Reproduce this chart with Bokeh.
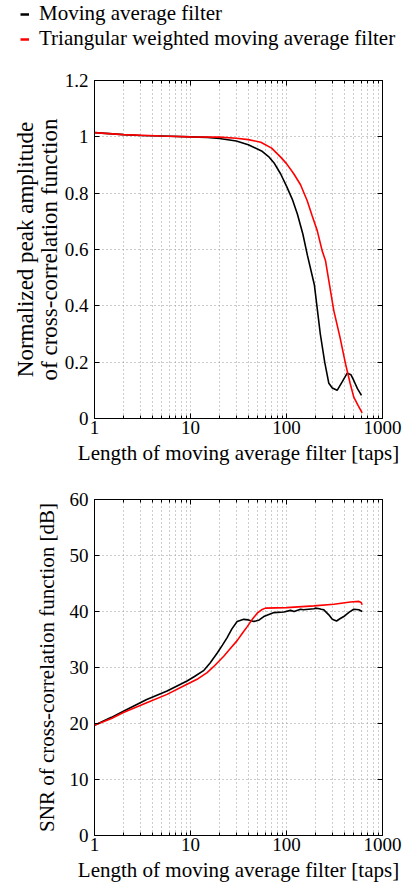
from bokeh.plotting import figure
from bokeh.layouts import column
from bokeh.models import FixedTicker, LogAxis, LinearAxis, Legend, LegendItem
from bokeh.embed import file_html
from bokeh.resources import INLINE

FONT = "Liberation Serif"
FS_TICK = "19px"
FS_TITLE = "21px"

# ---- data: normalized peak amplitude ----
amp_ma_taps = [1, 2, 3, 5, 10, 15, 20, 30, 40, 55, 65, 75, 87, 100, 115, 130, 148, 165,
               195, 225, 250, 276, 300, 337, 380, 429, 470, 502, 550, 604]
amp_ma = [1.015, 1.008, 1.005, 1.003, 1.0, 0.998, 0.994, 0.985, 0.972, 0.95, 0.93, 0.905,
          0.868, 0.825, 0.778, 0.725, 0.655, 0.58, 0.475, 0.30, 0.20, 0.125, 0.108, 0.10,
          0.13, 0.161, 0.155, 0.135, 0.105, 0.082]
amp_tw_taps = [1, 2, 5, 10, 20, 30, 40, 54, 70, 87, 100, 119, 140, 164, 185, 209, 235,
               255, 311, 360, 412, 460, 502, 560, 614]
amp_tw = [1.015, 1.008, 1.003, 1.0, 0.999, 0.995, 0.99, 0.981, 0.96, 0.928, 0.905, 0.869,
          0.83, 0.774, 0.72, 0.667, 0.596, 0.56, 0.383, 0.29, 0.194, 0.125, 0.076, 0.045,
          0.02]

# ---- data: SNR [dB] ----
snr_ma_taps = [1, 1.5, 2, 3.5, 5.7, 9.2, 11, 13.8, 16, 19, 21.5, 24, 27, 30.6, 35.9, 40,
               45.7, 52, 58, 74, 94, 110, 120, 140, 150, 170, 193, 200, 220, 230, 245, 276,
               300, 332, 360, 395, 450, 502, 567, 614]
snr_ma = [19.7, 21.1, 22.2, 24.3, 25.8, 27.6, 28.4, 29.5, 30.8, 32.6, 34.0, 35.3, 36.9,
          38.2, 38.6, 38.5, 38.2, 38.5, 39.1, 39.8, 39.9, 40.2, 40.0, 40.4, 40.3, 40.4,
          40.5, 40.6, 40.5, 40.4, 40.3, 39.4, 38.6, 38.3, 38.7, 39.1, 39.9, 40.4, 40.3, 40.0]
snr_tw_taps = [1, 1.5, 2, 3.5, 5.7, 9.2, 12, 14.9, 18, 22.2, 26, 30.6, 35, 39, 44, 49.5,
               55, 60.4, 100, 193, 311, 464, 567, 600, 614]
snr_tw = [19.7, 20.9, 21.95, 23.7, 25.2, 27.0, 28.0, 29.1, 30.4, 32.0, 33.4, 34.8, 36.2,
          37.3, 38.6, 39.7, 40.3, 40.6, 40.7, 41.0, 41.3, 41.7, 41.8, 41.6, 41.2]

x_ticks = [1, 10, 100, 1000]
x_minor = [2, 3, 4, 5, 6, 7, 8, 9, 20, 30, 40, 50, 60, 70, 80, 90,
           200, 300, 400, 500, 600, 700, 800, 900]
x_labels = ["1", "10", "100", "1000"]
amp_ticks = [0, 0.2, 0.4, 0.6, 0.8, 1, 1.2]
amp_labels = ["0", "0.2", "0.4", "0.6", "0.8", "1", "1.2"]
snr_ticks = [0, 10, 20, 30, 40, 50, 60]
snr_labels = ["0", "10", "20", "30", "40", "50", "60"]

x_title = "Length of moving average filter [taps]"
amp_title = "Normalized peak amplitude\nof cross-correlation function"
snr_title = "SNR of cross-correlation function [dB]"
legend_labels = ["Moving average filter", "Triangular weighted moving average filter"]
series_colors = ["black", "red"]

GRID = "#9a9a9a"


def make(height, yr, yticks, ylabels, ytitle, top, bottom, ylab_standoff, ytitle_fs):
    p = figure(width=406, height=height, x_axis_type="log", x_range=(1, 1000), y_range=yr,
               output_backend="svg", toolbar_location=None,
               min_border_left=94, min_border_right=24, min_border_top=top,
               min_border_bottom=bottom)
    p.outline_line_color = "black"
    p.outline_line_width = 1
    p.background_fill_color = "white"
    p.border_fill_color = "white"
    xt = FixedTicker(ticks=x_ticks, minor_ticks=x_minor)
    yt = FixedTicker(ticks=yticks)
    p.xaxis.ticker = xt
    p.yaxis.ticker = yt
    p.xgrid.ticker = xt
    p.ygrid.ticker = yt
    p.xaxis.major_label_overrides = dict(zip(x_ticks, x_labels))
    p.yaxis.major_label_overrides = dict(zip(yticks, ylabels))
    for g in (p.xgrid, p.ygrid):
        g.grid_line_color = GRID
        g.grid_line_dash = "1 3"
        g.grid_line_width = 1
    p.xgrid.minor_grid_line_color = GRID
    p.xgrid.minor_grid_line_dash = "1 3"
    for ax in (p.xaxis, p.yaxis):
        ax.axis_line_color = "black"
        ax.major_tick_in = 5
        ax.major_tick_out = 0
        ax.minor_tick_in = 3
        ax.minor_tick_out = 0
        ax.major_label_text_font = FONT
        ax.major_label_text_font_size = FS_TICK
        ax.major_label_text_color = "black"
        ax.axis_label_text_font = FONT
        ax.axis_label_text_font_size = FS_TITLE
        ax.axis_label_text_font_style = "normal"
        ax.axis_label_text_color = "black"
    p.yaxis.axis_label_text_font_size = ytitle_fs
    p.yaxis.axis_label_text_line_height = 0.95
    p.yaxis.minor_tick_line_color = None
    p.xaxis.major_label_standoff = 2
    p.xaxis.axis_label_standoff = 4
    p.yaxis.major_label_standoff = 6
    p.yaxis.axis_label_standoff = ylab_standoff
    p.xaxis.axis_label = x_title
    p.yaxis.axis_label = ytitle
    # box ticks on top and right
    top_ax = LogAxis(ticker=xt, major_label_text_font_size="1px", major_label_text_alpha=0,
                     major_label_standoff=0,
                     major_tick_in=5, major_tick_out=0, minor_tick_in=3, minor_tick_out=0,
                     axis_line_color="black")
    right_ax = LinearAxis(ticker=yt, major_label_text_font_size="1px", major_label_text_alpha=0,
                          major_label_standoff=0,
                          major_tick_in=5, major_tick_out=0, minor_tick_line_color=None,
                          axis_line_color="black")
    p.add_layout(top_ax, "above")
    p.add_layout(right_ax, "right")
    return p


# ---- legend strip (its own plot, renderers hidden, only the legend is shown) ----
p0 = figure(width=406, height=56, output_backend="svg", toolbar_location=None,
            x_axis_location=None, y_axis_location=None, min_border=0,
            x_range=(0, 1), y_range=(0, 1), frame_align=False)
p0.grid.visible = False
p0.outline_line_color = None
p0.border_fill_color = "white"
lr = [p0.line(amp_ma_taps, amp_ma, line_color=series_colors[0], line_width=2.5, visible=False),
      p0.line(amp_tw_taps, amp_tw, line_color=series_colors[1], line_width=2.5, visible=False)]
legend = Legend(items=[LegendItem(label=lab, renderers=[r]) for lab, r in zip(legend_labels, lr)],
                location=(20, 5), orientation="vertical",
                glyph_width=9, glyph_height=22, label_height=22, label_standoff=10,
                spacing=-1, padding=0, margin=0, border_line_color=None,
                background_fill_alpha=0, inactive_fill_alpha=0,
                label_text_font=FONT, label_text_font_size=FS_TITLE,
                label_text_color="black")
p0.add_layout(legend, "center")

p1 = make(414, (0, 1.2), amp_ticks, amp_labels, amp_title, 24, 52, 0, "23px")
p1.line(amp_ma_taps, amp_ma, line_color=series_colors[0], line_width=1.6)
p1.line(amp_tw_taps, amp_tw, line_color=series_colors[1], line_width=1.6)

p2 = make(414, (0, 60), snr_ticks, snr_labels, snr_title, 29, 47, 8, FS_TITLE)
p2.line(snr_ma_taps, snr_ma, line_color=series_colors[0], line_width=1.6)
p2.line(snr_tw_taps, snr_tw, line_color=series_colors[1], line_width=1.6)

layout = column(p0, p1, p2, spacing=0)
open("out.html", "w").write(file_html(layout, INLINE))
